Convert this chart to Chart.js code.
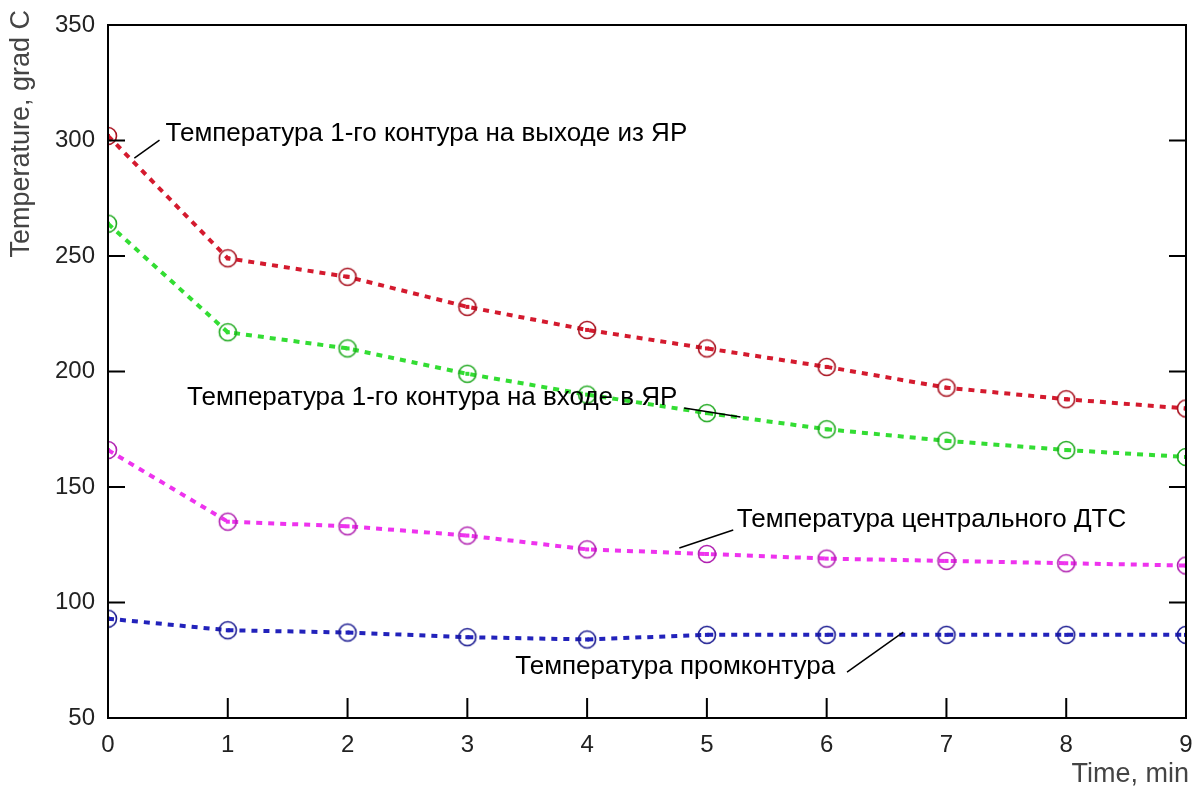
<!DOCTYPE html>
<html>
<head>
<meta charset="utf-8">
<script src="https://cdn.jsdelivr.net/npm/chart.js@4.4.1/dist/chart.umd.min.js"></script>
<style>
  html, body { margin: 0; padding: 0; background: #fff; }
  #wrap { width: 1199px; height: 791px; }
</style>
</head>
<body>
<div id="wrap"><canvas id="tempChart" width="1199" height="791"></canvas></div>
<script>
// time axis, minutes
const timeMin = [0, 1, 2, 3, 4, 5, 6, 7, 8, 9];

// temperatures, grad C
const outletTemp = [302, 249, 241, 228, 218, 210, 202, 193, 188, 184];
const inletTemp = [264, 217, 210, 199, 190, 182, 175, 170, 166, 163];
const centralTemp = [166, 135, 133, 129, 123, 121, 119, 118, 117, 116];
const loopTemp = [93, 88, 87, 85, 84, 86, 86, 86, 86, 86];

const xTickValues = [0, 1, 2, 3, 4, 5, 6, 7, 8, 9];
const yTickValues = [50, 100, 150, 200, 250, 300, 350];

const xTitle = "Time, min";
const yTitle = "Temperature, grad C";

// callout labels, anchored in data units
const calloutText = [
  "Температура 1-го контура на выходе из ЯР",
  "Температура 1-го контура на входе в ЯР",
  "Температура центрального ДТС",
  "Температура промконтура"
];
const calloutX = [0.48, 0.66, 5.25, 3.40];
const calloutY = [303, 188.5, 135.7, 72];
const leaderFrom = [[0.43, 300.2], [4.81, 184.2], [5.22, 131.4], [6.17, 69.9]];
const leaderTo = [[0.22, 292.4], [5.28, 180.3], [4.77, 123.6], [6.64, 87.2]];

const FONT = "'Liberation Sans', Arial, sans-serif";

function makeMarker(ring, dot) {
  const c = document.createElement("canvas");
  c.width = 22;
  c.height = 22;
  const ctx = c.getContext("2d");
  ctx.strokeStyle = ring;
  ctx.lineWidth = 1.6;
  ctx.beginPath();
  ctx.arc(11, 11, 8.5, 0, Math.PI * 2);
  ctx.stroke();
  ctx.fillStyle = dot;
  ctx.fillRect(9, 9, 4, 4);
  return c;
}

function series(values, color, ring) {
  return {
    data: timeMin.map((t, i) => ({ x: t, y: values[i] })),
    borderColor: color,
    borderWidth: 4,
    borderDash: [6, 6],
    pointStyle: makeMarker(ring, color),
    pointRadius: 9,
    tension: 0,
    fill: false,
    clip: 0
  };
}

const framePlugin = {
  id: "frame",
  afterDatasetsDraw(chart) {
    const { ctx, chartArea: a, scales } = chart;
    ctx.save();
    ctx.strokeStyle = "#000";
    ctx.lineWidth = 2;
    ctx.strokeRect(a.left, a.top, a.right - a.left, a.bottom - a.top);

    // inward tick marks
    ctx.beginPath();
    yTickValues.forEach((v) => {
      const y = scales.y.getPixelForValue(v);
      ctx.moveTo(a.left, y);
      ctx.lineTo(a.left + 17, y);
      ctx.moveTo(a.right, y);
      ctx.lineTo(a.right - 17, y);
    });
    xTickValues.forEach((v) => {
      const x = scales.x.getPixelForValue(v);
      ctx.moveTo(x, a.bottom);
      ctx.lineTo(x, a.bottom - 20);
    });
    ctx.stroke();

    // callouts
    ctx.fillStyle = "#000";
    ctx.font = "26px " + FONT;
    ctx.textBaseline = "middle";
    ctx.textAlign = "left";
    ctx.lineWidth = 1.5;
    calloutText.forEach((txt, i) => {
      ctx.fillText(txt, scales.x.getPixelForValue(calloutX[i]), scales.y.getPixelForValue(calloutY[i]));
      ctx.beginPath();
      ctx.moveTo(scales.x.getPixelForValue(leaderFrom[i][0]), scales.y.getPixelForValue(leaderFrom[i][1]));
      ctx.lineTo(scales.x.getPixelForValue(leaderTo[i][0]), scales.y.getPixelForValue(leaderTo[i][1]));
      ctx.stroke();
    });

    // axis titles
    ctx.fillStyle = "#444";
    ctx.font = "27px " + FONT;
    ctx.textAlign = "right";
    ctx.fillText(xTitle, a.right + 3, 775);
    ctx.translate(22, 10);
    ctx.rotate(-Math.PI / 2);
    ctx.textAlign = "right";
    ctx.fillText(yTitle, 0, 0);
    ctx.restore();
  }
};

new Chart(document.getElementById("tempChart"), {
  type: "line",
  data: {
    datasets: [
      series(outletTemp, "#d41a2e", "#a8101e"),
      series(inletTemp, "#33dd33", "#22aa22"),
      series(centralTemp, "#ee33ee", "#b020b0"),
      series(loopTemp, "#2222bb", "#1a1a90")
    ]
  },
  options: {
    responsive: false,
    animation: false,
    layout: { padding: { top: 25, right: 12, left: 0, bottom: 0 } },
    plugins: {
      legend: { display: false },
      tooltip: { enabled: false }
    },
    scales: {
      x: {
        type: "linear",
        min: 0,
        max: 9,
        afterFit: (s) => {
          s.height = 73;
          s.paddingLeft = 0;
          s.paddingRight = 0;
        },
        afterBuildTicks: (s) => { s.ticks = xTickValues.map((v) => ({ value: v })); },
        grid: { display: false, drawTicks: false },
        border: { display: false },
        ticks: {
          color: "#222",
          padding: 13,
          maxRotation: 0,
          font: { family: FONT, size: 24 }
        }
      },
      y: {
        min: 50,
        max: 350,
        afterFit: (s) => {
          s.width = 108;
          s.paddingTop = 0;
          s.paddingBottom = 0;
        },
        afterBuildTicks: (s) => { s.ticks = yTickValues.map((v) => ({ value: v })); },
        grid: { display: false, drawTicks: false },
        border: { display: false },
        ticks: {
          color: "#222",
          padding: 13,
          font: { family: FONT, size: 24 }
        }
      }
    }
  },
  plugins: [framePlugin]
});
</script>
</body>
</html>
